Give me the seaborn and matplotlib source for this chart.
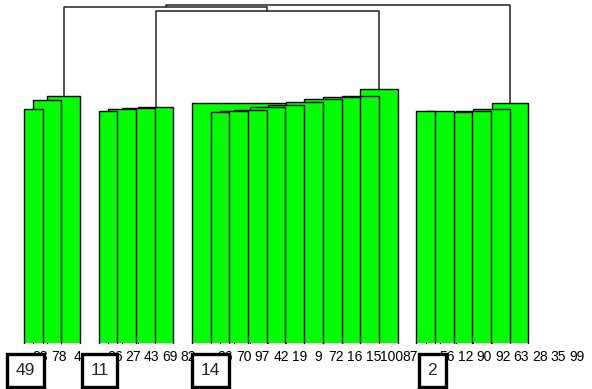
import numpy as np
import matplotlib
matplotlib.use("Agg")
import matplotlib.pyplot as plt
import seaborn as sns

# leaf labels along the bottom, left to right
leaf_labels = ["49", "88", "78", "4", "11", "26", "27", "43", "69", "82", "14",
               "36", "70", "97", "42", "19", "9", "72", "16", "15", "100", "87",
               "2", "56", "12", "90", "92", "63", "28", "35", "99"]
# group labels drawn inside a box
boxed_labels = ["49", "11", "14", "2"]

# clusters: first leaf slot of the chain and merge heights (bottom -> top)
cluster_start = [0, 4, 10, 21]
cluster_heights = [
    [2.34, 2.43, 2.47],
    [2.32, 2.337, 2.35, 2.363],
    [2.307, 2.317, 2.33, 2.357, 2.385, 2.407, 2.44, 2.457, 2.47, 2.537],
    [2.323, 2.323, 2.307, 2.323, 2.337, 2.397],
]
# side branch inside cluster 3: first leaf, last leaf, height
side_first = [9]
side_last = [15]
side_height = [2.40]

# merges above the clusters (child a, child b, height); new nodes get ids 4, 5, ...
merge_a = [1, 0, 5]
merge_b = [2, 4, 3]
merge_height = [3.32, 3.36, 3.38]

GREEN = "#00ff00"


def chain_rects(start, heights):
    rects = []
    left, right = start, start + 1
    for k, h in enumerate(heights):
        if k > 0:
            left, right = (left + right) / 2, start + k + 1
        rects.append((left, right, h))
    return rects


def draw_rect(ax, left, right, h, z):
    ax.bar(left, h, width=right - left, align="edge", color=GREEN,
           linewidth=0, zorder=z)
    ax.plot([left, left, right, right], [0, h, h, 0], color="black",
            lw=1.0, zorder=z + 0.5, solid_joinstyle="miter")


def main():
    sns.set_theme(style="white")
    plt.rcParams["font.family"] = ["Liberation Sans", "DejaVu Sans"]

    fig = plt.figure(figsize=(5.92, 3.89), dpi=100)
    ax = fig.add_axes([0, 0, 1, 1])

    z = 1
    node_pos = []
    node_top = []
    for c, (start, heights) in enumerate(zip(cluster_start, cluster_heights)):
        rects = chain_rects(start, heights)
        if c == 2:
            for f, l, h in zip(side_first, side_last, side_height):
                draw_rect(ax, f, l + 1, h, z)
                z += 1
        for left, right, h in reversed(rects):
            draw_rect(ax, left, right, h, z)
            z += 1
        left, right, h = rects[-1]
        node_pos.append((left + right) / 2)
        node_top.append(h)

    # upper tree as plain lines
    for a, b, h in zip(merge_a, merge_b, merge_height):
        xa, xb = node_pos[a], node_pos[b]
        ax.plot([xa, xa, xb, xb], [node_top[a], h, h, node_top[b]],
                color="#222222", lw=1.1, zorder=z)
        node_pos.append((xa + xb) / 2)
        node_top.append(h)

    # labels
    xs = np.linspace(-0.1, 29.6, len(leaf_labels))
    for x, lab in zip(xs, leaf_labels):
        if lab in boxed_labels:
            ax.text(x + 0.18, -0.275, lab, ha="center", va="center",
                    fontsize=12.5, zorder=z + 2,
                    bbox=dict(boxstyle="square,pad=0.5", fc="white",
                              ec="black", lw=2.4))
        else:
            ax.text(x, -0.14, lab, ha="center", va="center", fontsize=10,
                    color="black", zorder=z + 1)

    ax.set_xlim(-1.285, 30.41)
    ax.set_ylim(-0.46, 3.43)
    ax.axis("off")
    fig.savefig("out.png", dpi=100, facecolor="white")
    plt.close(fig)


if __name__ == "__main__":
    main()
